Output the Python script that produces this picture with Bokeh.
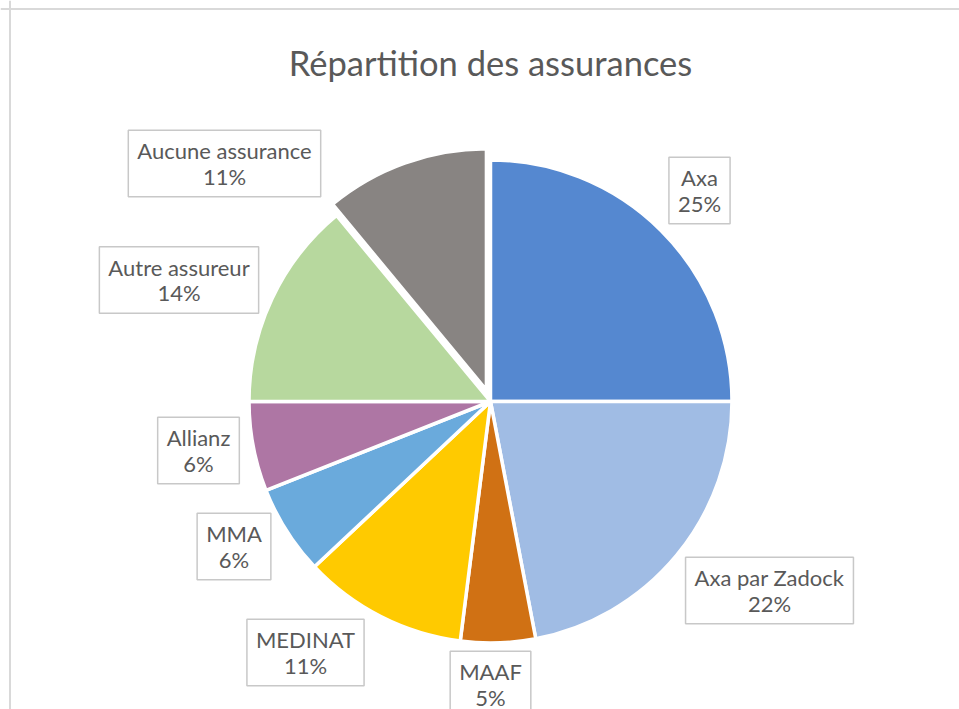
import math
from bokeh.plotting import figure
from bokeh.models import ColumnDataSource, Range1d, Span
from bokeh.core.properties import value
from bokeh.embed import file_html
from bokeh.resources import INLINE

# ---- data ----
categories = ["Axa", "Axa par Zadock", "MAAF", "MEDINAT", "MMA", "Allianz",
              "Autre assureur", "Aucune assurance"]
percent = [25, 22, 5, 11, 6, 6, 14, 11]

# ---- styles / layout ----
colors = ["#5588D0", "#A0BCE4", "#D07114", "#FFCA00", "#6AAADC", "#AE76A4",
          "#B7D89E", "#888482"]
explode = [0, 0, 0, 0, 0, 0, 0, 12]
# label box centres, as pixel offsets from the pie centre (screen y down)
label_dx = [209, 279, 0, -185, -256.5, -292, -311.5, -266]
label_dy = [-211, 189, 283, 251, 145, 49, -121.5, -238]

W, H = 959, 709
CX, CY = 490, 308      # pie centre in plot units (1 unit = 1 px)
R = 241.5

total = float(sum(percent))
starts, ends, xs, ys = [], [], [], []
acc = 0.0
for v, e in zip(percent, explode):
    a1 = acc / total * 2 * math.pi
    acc += v
    a2 = acc / total * 2 * math.pi
    mid = (a1 + a2) / 2
    starts.append(math.pi / 2 - a1)
    ends.append(math.pi / 2 - a2)
    xs.append(CX + e * math.sin(mid))
    ys.append(CY + e * math.cos(mid))

src = ColumnDataSource(dict(x=xs, y=ys, start=starts, end=ends, color=colors,
                            cat=categories))

p = figure(width=W, height=H, output_backend="svg", toolbar_location=None,
           x_range=Range1d(0, W), y_range=Range1d(0, H),
           x_axis_location=None, y_axis_location=None, min_border=0)
p.grid.visible = False
p.outline_line_color = None
p.background_fill_color = "white"
p.border_fill_color = "white"

p.wedge(x="x", y="y", radius=R, start_angle="start", end_angle="end",
        direction="clock", fill_color="color", line_color="white",
        line_width=3.5, source=src)

# frame lines (top and left)
p.add_layout(Span(location=H - 8.5, dimension="width", line_color="#D9D9D9",
                  line_width=2))
p.add_layout(Span(location=9.5, dimension="height", line_color="#D9D9D9",
                  line_width=2))

# title
p.text(x=[CX], y=[H - 62], text=["Répartition des assurances"],
       text_font=value("Lato"), text_font_size="34.5px", text_color="#595959",
       text_align="center", text_baseline="middle")

# data labels
lx = [CX + dx for dx in label_dx]
ly = [CY - dy for dy in label_dy]
ltext = ["%s\n%d%%" % (c, v) for c, v in zip(categories, percent)]
lsrc = ColumnDataSource(dict(x=lx, y=ly, text=ltext))
p.text(x="x", y="y", text="text", source=lsrc, text_font=value("Lato"),
       text_font_size="22px", text_color="#595959", text_align="center",
       text_baseline="middle", text_line_height=0.94,
       border_line_color="#C8C8C8", border_line_width=1.5,
       background_fill_color="white",
       padding=dict(left=9, right=9, top=7, bottom=7))

open("out.html", "w").write(file_html(p, INLINE))
